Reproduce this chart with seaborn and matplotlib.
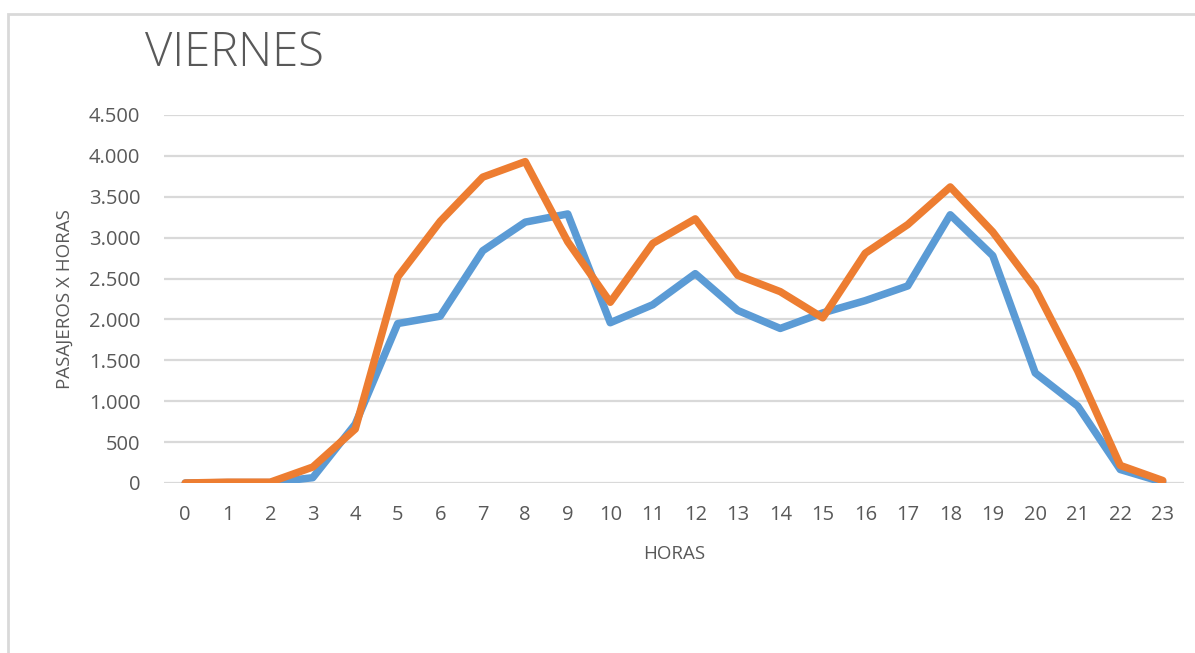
import matplotlib
matplotlib.use("Agg")
import matplotlib.pyplot as plt
from matplotlib.patches import Rectangle
from matplotlib.ticker import FuncFormatter, FixedLocator
import numpy as np
import pandas as pd
import seaborn as sns

# Passengers per hour, Friday
horas = list(range(24))
serie_1 = [0, 5, 5, 65, 720, 1950, 2040, 2840, 3190, 3290, 1960, 2180, 2560, 2110, 1890,
           2080, 2230, 2410, 3280, 2780, 1345, 940, 165, 10]
serie_2 = [0, 10, 10, 195, 660, 2520, 3200, 3740, 3930, 2950, 2210, 2930, 3230, 2540, 2340,
           2020, 2810, 3160, 3620, 3070, 2380, 1370, 215, 30]
series_names = ["Serie 1", "Serie 2"]
series_colors = ["#5B9BD5", "#ED7D31"]
y_ticks = [0, 500, 1000, 1500, 2000, 2500, 3000, 3500, 4000, 4500]

df = pd.DataFrame({
    "HORAS": horas * 2,
    "PASAJEROS": serie_1 + serie_2,
    "serie": [series_names[0]] * 24 + [series_names[1]] * 24,
})

sns.set_theme(style="white")
plt.rcParams["font.family"] = ["Open Sans", "DejaVu Sans"]

text_color = "#595959"
grid_color = "#d9d9d9"

fig = plt.figure(figsize=(11.95, 6.53), dpi=100)
ax = fig.add_axes([164 / 1195, 1 - 483 / 653, (1184 - 164) / 1195, (483 - 115) / 653])

sns.lineplot(data=df, x="HORAS", y="PASAJEROS", hue="serie", palette=series_colors,
             linewidth=5.4, legend=False, ax=ax, zorder=3)
for line in ax.get_lines():
    line.set_solid_capstyle("round")
    line.set_solid_joinstyle("round")

ax.set_xlim(-0.5, 23.5)
ax.set_ylim(0, 4500)
ax.yaxis.set_major_locator(FixedLocator(y_ticks))
ax.xaxis.set_major_locator(FixedLocator(horas))
ax.yaxis.set_major_formatter(FuncFormatter(lambda v, p: f"{v:,.0f}".replace(",", ".")))
ax.grid(axis="y", color=grid_color, linewidth=1.6, zorder=0)
ax.grid(axis="x", visible=False)
for s in ax.spines.values():
    s.set_visible(False)

ax.tick_params(axis="both", length=0, labelsize=14.5, labelcolor=text_color)
ax.tick_params(axis="y", pad=17)
ax.tick_params(axis="x", pad=16)

ax.set_xlabel("HORAS", fontsize=13.5, color=text_color, labelpad=14)
ax.set_ylabel("PASAJEROS X HORAS", fontsize=13.5, color=text_color, labelpad=11)

fig.text(145 / 1195, 1 - 54 / 653, "VIERNES", fontsize=34, color=text_color,
         fontweight="light", ha="left", va="center")

# Chart-area frame
fig.patches.append(Rectangle((8 / 1195, -0.05), 1.1, 1 - 14 / 653 + 0.05,
                             transform=fig.transFigure, fill=False,
                             edgecolor=grid_color, linewidth=2, zorder=0))

fig.savefig("out.png", dpi=100, facecolor="white")
